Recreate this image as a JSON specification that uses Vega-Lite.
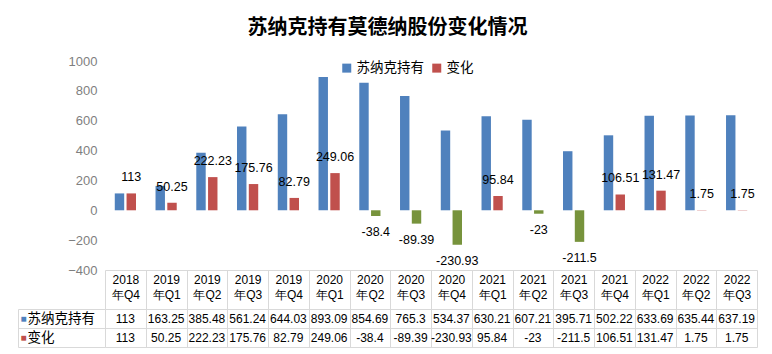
{
  "$schema": "https://vega.github.io/schema/vega-lite/v6.json",
  "padding": {"left": 17, "top": 18, "right": 5, "bottom": 5},
  "title": {"text": "苏纳克持有莫德纳股份变化情况", "font": "Noto Sans CJK SC", "fontSize": 20, "fontWeight": "bold", "color": "#000000", "anchor": "middle", "offset": 17},
  "config": {"view": {"stroke": null}, "font": "Liberation Sans"},
  "data": {"values": [
    {"q": "2018年Q4", "series": "苏纳克持有", "value": 113},
    {"q": "2019年Q1", "series": "苏纳克持有", "value": 163.25},
    {"q": "2019年Q2", "series": "苏纳克持有", "value": 385.48},
    {"q": "2019年Q3", "series": "苏纳克持有", "value": 561.24},
    {"q": "2019年Q4", "series": "苏纳克持有", "value": 644.03},
    {"q": "2020年Q1", "series": "苏纳克持有", "value": 893.09},
    {"q": "2020年Q2", "series": "苏纳克持有", "value": 854.69},
    {"q": "2020年Q3", "series": "苏纳克持有", "value": 765.3},
    {"q": "2020年Q4", "series": "苏纳克持有", "value": 534.37},
    {"q": "2021年Q1", "series": "苏纳克持有", "value": 630.21},
    {"q": "2021年Q2", "series": "苏纳克持有", "value": 607.21},
    {"q": "2021年Q3", "series": "苏纳克持有", "value": 395.71},
    {"q": "2021年Q4", "series": "苏纳克持有", "value": 502.22},
    {"q": "2022年Q1", "series": "苏纳克持有", "value": 633.69},
    {"q": "2022年Q2", "series": "苏纳克持有", "value": 635.44},
    {"q": "2022年Q3", "series": "苏纳克持有", "value": 637.19},
    {"q": "2018年Q4", "series": "变化", "value": 113},
    {"q": "2019年Q1", "series": "变化", "value": 50.25},
    {"q": "2019年Q2", "series": "变化", "value": 222.23},
    {"q": "2019年Q3", "series": "变化", "value": 175.76},
    {"q": "2019年Q4", "series": "变化", "value": 82.79},
    {"q": "2020年Q1", "series": "变化", "value": 249.06},
    {"q": "2020年Q2", "series": "变化", "value": -38.4},
    {"q": "2020年Q3", "series": "变化", "value": -89.39},
    {"q": "2020年Q4", "series": "变化", "value": -230.93},
    {"q": "2021年Q1", "series": "变化", "value": 95.84},
    {"q": "2021年Q2", "series": "变化", "value": -23},
    {"q": "2021年Q3", "series": "变化", "value": -211.5},
    {"q": "2021年Q4", "series": "变化", "value": 106.51},
    {"q": "2022年Q1", "series": "变化", "value": 131.47},
    {"q": "2022年Q2", "series": "变化", "value": 1.75},
    {"q": "2022年Q3", "series": "变化", "value": 1.75}
  ]},
  "bounds": "flush",
  "spacing": 39,
  "vconcat": [
    {
      "width": 652,
      "height": 209,
      "encoding": {
        "x": {"field": "q", "type": "nominal", "sort": null, "scale": {"paddingInner": 0, "paddingOuter": 0},
          "axis": {"title": null, "orient": "bottom", "domainColor": "#d9d9d9", "tickColor": "#d9d9d9", "tickSize": 39, "tickBand": "extent",
            "labelExpr": "[slice(datum.label,0,4), slice(datum.label,4)]", "labelAngle": 0, "labelFontSize": 12, "labelColor": "#000000",
            "labelLineHeight": 15, "labelPadding": -35, "labelBaseline": "top", "labelOverlap": false, "labelFont": "Liberation Sans"}},
        "xOffset": {"field": "series", "type": "nominal", "scale": {"domain": ["苏纳克持有", "变化"], "paddingInner": 0.2, "paddingOuter": 0.83}},
        "y": {"field": "value", "type": "quantitative", "scale": {"domain": [-400, 1000], "nice": false},
          "axis": {"title": null, "values": [-400, -200, 0, 200, 400, 600, 800, 1000], "format": "d", "domain": false, "ticks": false, "grid": false,
            "labelColor": "#7f7f7f", "labelFontSize": 13, "labelPadding": 8}}
      },
      "layer": [
        {
          "mark": {"type": "bar"},
          "encoding": {
            "color": {
              "condition": {"test": "datum.value < 0", "value": "#77933c"},
              "field": "series", "type": "nominal",
              "scale": {"domain": ["苏纳克持有", "变化"], "range": ["#4f81bd", "#c0504d"]},
              "legend": {"title": null, "orient": "none", "legendX": 235, "legendY": 0, "direction": "horizontal", "symbolType": "square",
                "symbolSize": 81, "labelFontSize": 13.5, "labelFont": "Noto Sans CJK SC", "labelColor": "#000000", "columnPadding": 6,
                "labelOffset": 3, "symbolStrokeWidth": 0}
            }
          }
        },
        {
          "transform": [{"filter": "datum.series === '变化' && datum.value >= 0"}],
          "mark": {"type": "text", "dy": -16, "fontSize": 12.5, "color": "#000000"},
          "encoding": {"text": {"field": "value", "type": "nominal"}}
        },
        {
          "transform": [{"filter": "datum.series === '变化' && datum.value < 0"}],
          "mark": {"type": "text", "dy": 16, "fontSize": 12.5, "color": "#000000"},
          "encoding": {"text": {"field": "value", "type": "nominal"}}
        }
      ]
    },
    {
      "width": 652,
      "height": 38,
      "encoding": {
        "x": {"field": "q", "type": "nominal", "sort": null, "scale": {"paddingInner": 0, "paddingOuter": 0},
          "axis": {"title": null, "labels": false, "ticks": false, "domain": false, "grid": true, "tickBand": "extent", "gridColor": "#d9d9d9"}}
      },
      "layer": [
        {
          "mark": {"type": "text", "fontSize": 12, "color": "#000000"},
          "encoding": {
            "text": {"field": "value", "type": "nominal"},
            "y": {"field": "series", "type": "nominal", "sort": ["苏纳克持有", "变化"], "scale": {"domain": ["苏纳克持有", "变化"], "paddingInner": 0, "paddingOuter": 0},
              "axis": {"title": null, "orient": "left", "domain": false, "ticks": true, "tickSize": 87, "tickBand": "extent", "tickColor": "#d9d9d9",
                "grid": true, "gridColor": "#d9d9d9", "labelAlign": "left", "labelPadding": -9, "labelFontSize": 13.5, "labelFont": "Noto Sans CJK SC", "labelColor": "#000000"}}
          }
        },
        {
          "mark": {"type": "text", "opacity": 0},
          "encoding": {
            "text": {"field": "value", "type": "nominal"},
            "y": {"field": "series", "type": "nominal", "sort": ["苏纳克持有", "变化"],
              "axis": {"title": null, "orient": "left", "offset": 87, "domain": true, "domainColor": "#d9d9d9", "ticks": false, "tickSize": 0, "grid": false,
                "labelAlign": "left", "labelPadding": -2, "labelExpr": "'■'", "labelFontSize": 10,
                "labelColor": {"condition": {"test": "datum.value === '变化'", "value": "#c0504d"}, "value": "#4f81bd"}}}
          }
        }
      ],
      "resolve": {"axis": {"y": "independent"}}
    }
  ]
}
